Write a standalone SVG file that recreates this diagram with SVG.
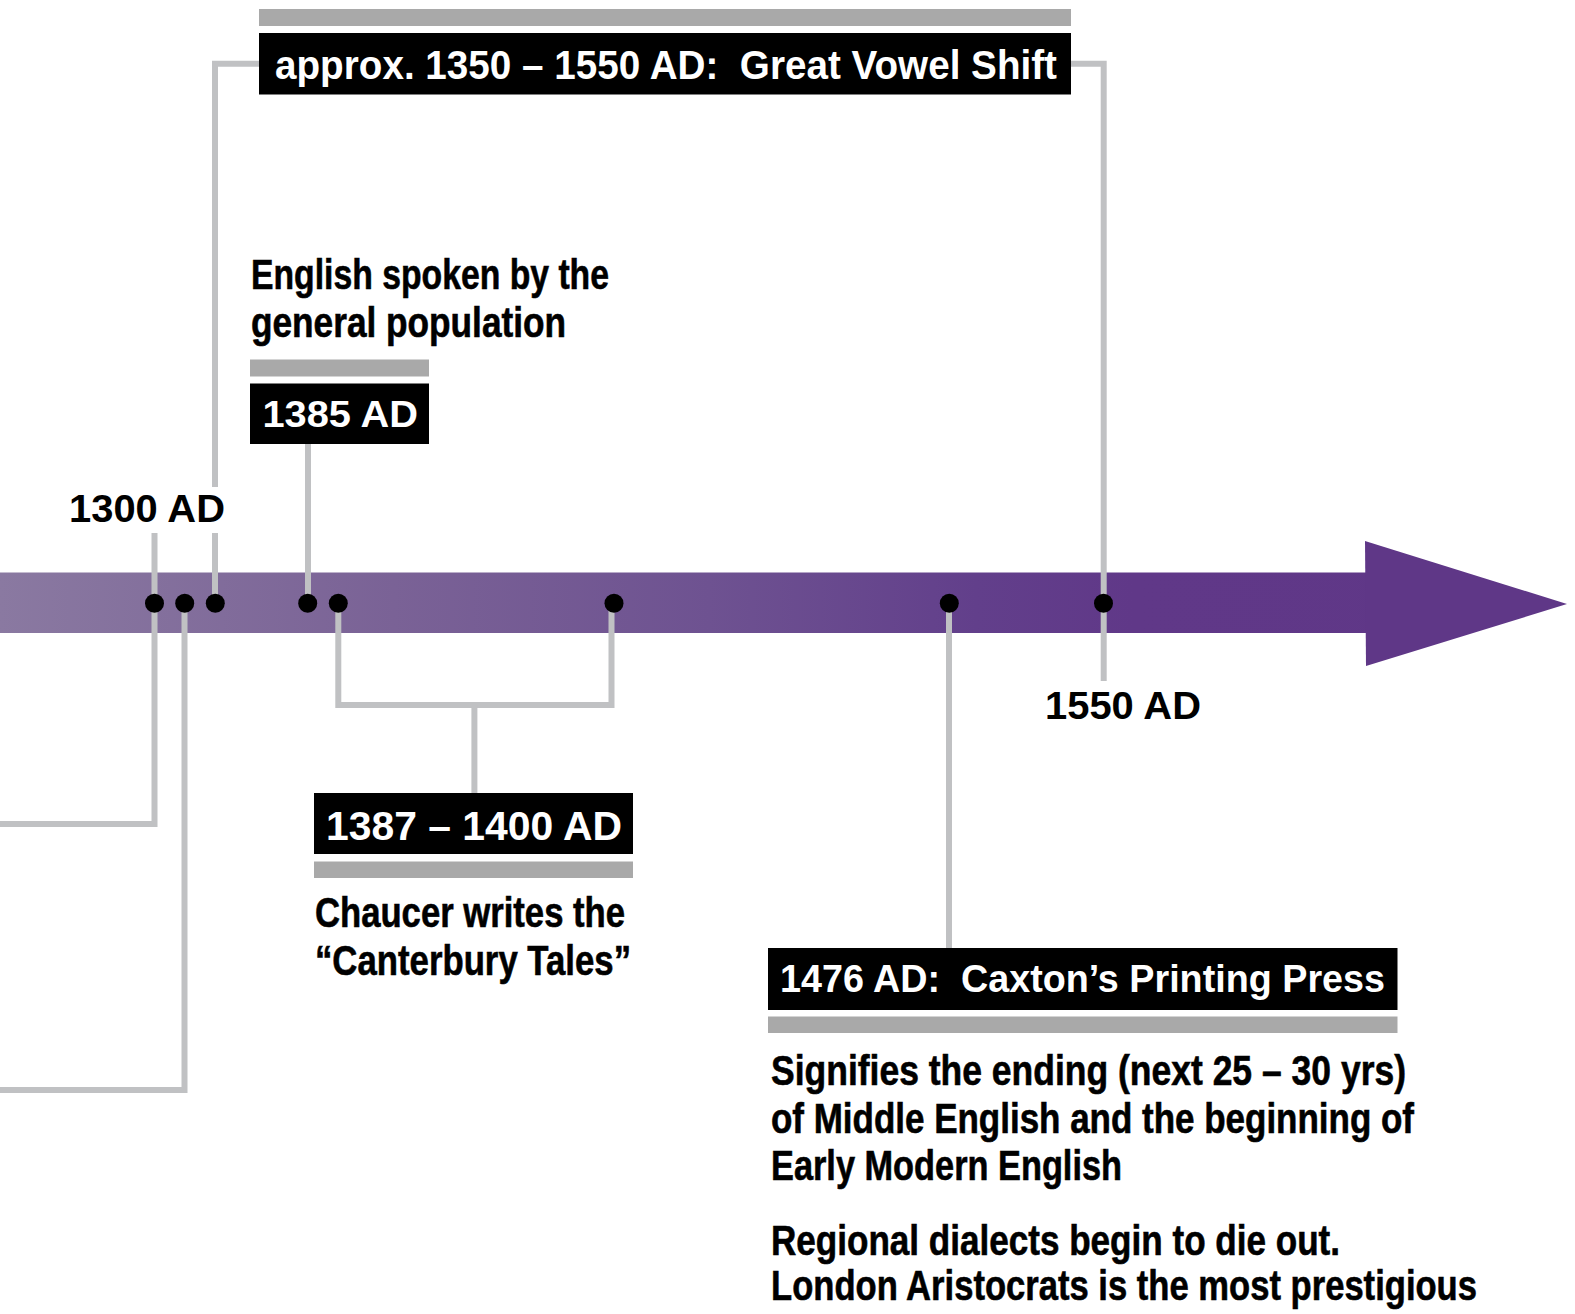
<svg xmlns="http://www.w3.org/2000/svg" width="1575" height="1314" viewBox="0 0 1575 1314">
  <style>
    .conn { fill: none; stroke: #c0c1c3; stroke-width: 6; stroke-linecap: butt; stroke-linejoin: miter; }
    .box { fill: #000000; }
    .bar { fill: #a9a9a9; }
    .dot { fill: #000000; }
    .wt { fill: #ffffff; font-family: "Liberation Sans", Arial, sans-serif; font-weight: bold; }
    .bt { fill: #000000; font-family: "Liberation Sans", Arial, sans-serif; font-weight: bold; }
    .body { fill: #000000; font-family: "Liberation Sans Narrow", "Liberation Sans", Arial, sans-serif; font-weight: bold; font-size: 42px; stroke: #000000; stroke-width: 0.6; }
  </style>
  <defs>
    <linearGradient id="tl" gradientUnits="userSpaceOnUse" x1="0" y1="0" x2="1575" y2="0">
      <stop offset="0" stop-color="#8a79a1"/>
      <stop offset="0.25" stop-color="#7a6296"/>
      <stop offset="0.45" stop-color="#6e5291"/>
      <stop offset="0.62" stop-color="#623f8b"/>
      <stop offset="0.72" stop-color="#603888"/>
      <stop offset="1" stop-color="#5f3787"/>
    </linearGradient>
  </defs>

  <g id="timeline">
    <rect x="0" y="572.5" width="1366" height="60.5" fill="url(#tl)"/>
    <polygon points="1365,541 1567,604 1366,666" fill="#5f3787"/>
  </g>

  <g id="connectors">
    <polyline class="conn" points="154.5,533 154.5,824 0,824"/>
    <polyline class="conn" points="184.5,603 184.5,1090 0,1090"/>
    <polyline class="conn" points="259,63.7 215,63.7 215,487"/>
    <line class="conn" x1="215" y1="533" x2="215" y2="603"/>
    <polyline class="conn" points="1071,63.7 1103.7,63.7 1103.7,681"/>
    <line class="conn" x1="308" y1="444" x2="308" y2="603"/>
    <polyline class="conn" points="338.3,603 338.3,705 611.5,705 611.5,603"/>
    <line class="conn" x1="474.4" y1="705" x2="474.4" y2="793"/>
    <line class="conn" x1="949" y1="603" x2="949" y2="948"/>
  </g>

  <g id="dots">
    <circle class="dot" cx="154.5" cy="603.3" r="9.5"/>
    <circle class="dot" cx="184.7" cy="603.3" r="9.5"/>
    <circle class="dot" cx="215.3" cy="603.3" r="9.5"/>
    <circle class="dot" cx="307.7" cy="603.3" r="9.5"/>
    <circle class="dot" cx="338.3" cy="603.3" r="9.5"/>
    <circle class="dot" cx="614" cy="603.3" r="9.5"/>
    <circle class="dot" cx="949.3" cy="603.3" r="9.5"/>
    <circle class="dot" cx="1103.5" cy="603.3" r="9.5"/>
  </g>

  <g id="great-vowel-shift">
    <rect class="bar" x="259" y="9" width="812" height="17"/>
    <rect class="box" x="259" y="33" width="812" height="61.5"/>
    <text class="wt" x="275" y="79" font-size="41" textLength="782" lengthAdjust="spacingAndGlyphs" xml:space="preserve">approx. 1350 – 1550 AD:  Great Vowel Shift</text>
  </g>

  <g id="label-1300">
    <text class="bt" x="69" y="522" font-size="38" textLength="156" lengthAdjust="spacingAndGlyphs">1300 AD</text>
  </g>

  <g id="label-1550">
    <text class="bt" x="1045" y="719" font-size="38" textLength="156" lengthAdjust="spacingAndGlyphs">1550 AD</text>
  </g>

  <g id="event-1385">
    <text class="body" x="251" y="289" textLength="358" lengthAdjust="spacingAndGlyphs">English spoken by the</text>
    <text class="body" x="251" y="337" textLength="315" lengthAdjust="spacingAndGlyphs">general population</text>
    <rect class="bar" x="250" y="359.5" width="179" height="17"/>
    <rect class="box" x="250" y="383.5" width="179" height="60.5"/>
    <text class="wt" x="262.5" y="426.7" font-size="37" textLength="155.5" lengthAdjust="spacingAndGlyphs">1385 AD</text>
  </g>

  <g id="event-1387">
    <rect class="box" x="314" y="793" width="319" height="61"/>
    <text class="wt" x="326" y="839.5" font-size="40" textLength="296" lengthAdjust="spacingAndGlyphs">1387 – 1400 AD</text>
    <rect class="bar" x="314" y="861.5" width="319" height="16.5"/>
    <text class="body" x="315" y="926.7" textLength="310" lengthAdjust="spacingAndGlyphs">Chaucer writes the</text>
    <text class="body" x="315" y="975" textLength="316" lengthAdjust="spacingAndGlyphs">“Canterbury Tales”</text>
  </g>

  <g id="event-1476">
    <rect class="box" x="768" y="948" width="629.5" height="62"/>
    <text class="wt" x="780" y="992" font-size="39" textLength="605" lengthAdjust="spacingAndGlyphs" xml:space="preserve">1476 AD:  Caxton’s Printing Press</text>
    <rect class="bar" x="768" y="1016.5" width="629.5" height="16.5"/>
    <text class="body" x="771" y="1085" textLength="635" lengthAdjust="spacingAndGlyphs">Signifies the ending (next 25 – 30 yrs)</text>
    <text class="body" x="771" y="1133" textLength="643" lengthAdjust="spacingAndGlyphs">of Middle English and the beginning of</text>
    <text class="body" x="771" y="1180" textLength="351" lengthAdjust="spacingAndGlyphs">Early Modern English</text>
    <text class="body" x="771" y="1255" textLength="569" lengthAdjust="spacingAndGlyphs">Regional dialects begin to die out.</text>
    <text class="body" x="771" y="1300" textLength="706" lengthAdjust="spacingAndGlyphs">London Aristocrats is the most prestigious</text>
  </g>
</svg>
